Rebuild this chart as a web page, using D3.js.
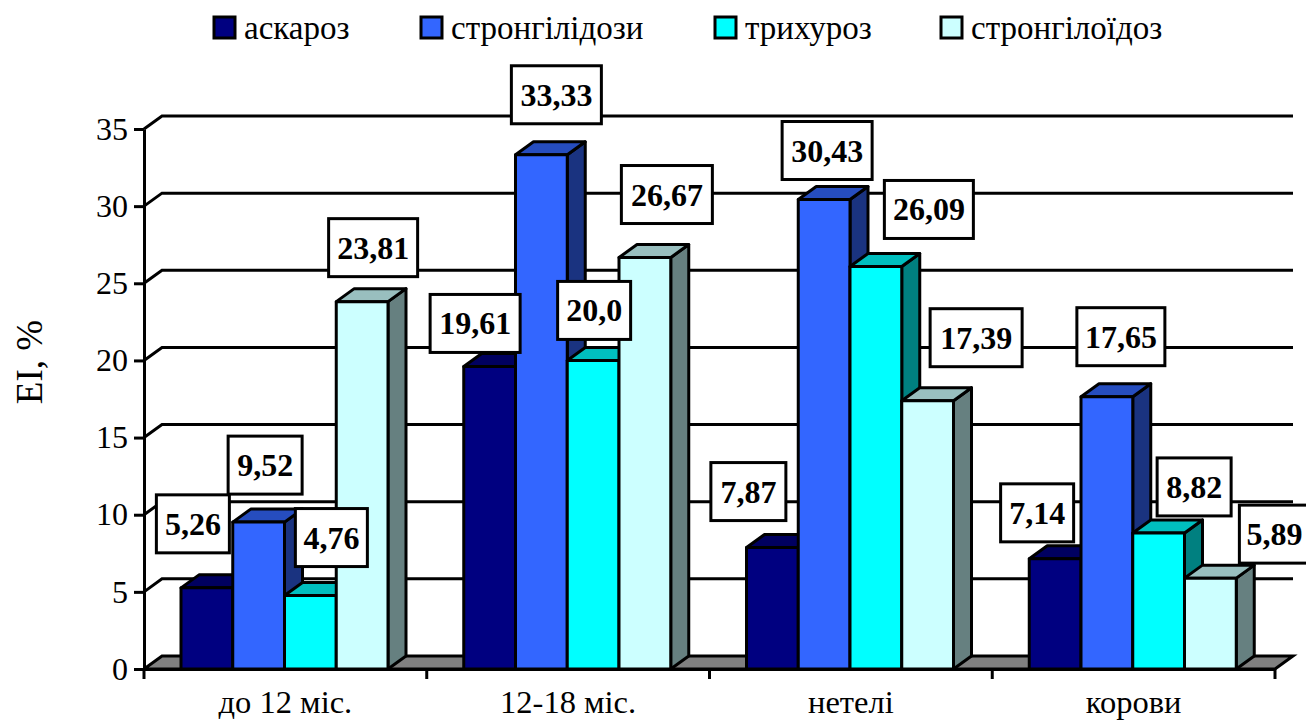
<!DOCTYPE html>
<html>
<head>
<meta charset="utf-8">
<script src="https://cdn.jsdelivr.net/npm/d3@7"></script>
<style>
body { margin: 0; background: #fff; }
svg { display: block; font-family: "Liberation Serif", serif; }
</style>
</head>
<body>
<div id="chart"></div>
<script>
var categories = ["до 12 міс.", "12-18 міс.", "нетелі", "корови"];
var seriesNames = ["аскароз", "стронгілідози", "трихуроз", "стронгілоїдоз"];
var askaroz = [5.26, 19.61, 7.87, 7.14];
var strongilidozy = [9.52, 33.33, 30.43, 17.65];
var trykhuroz = [4.76, 20.0, 26.09, 8.82];
var strongiloidoz = [23.81, 26.67, 17.39, 5.89];
var labelText = [
  ["5,26", "19,61", "7,87", "7,14"],
  ["9,52", "33,33", "30,43", "17,65"],
  ["4,76", "20,0", "26,09", "8,82"],
  ["23,81", "26,67", "17,39", "5,89"]
];
var yTicks = [0, 5, 10, 15, 20, 25, 30, 35];

// look of the chart, not data
var colors = ["#000080", "#3366ff", "#00ffff", "#ccffff"];
var legendX = [214, 421, 715, 941];
// label box centre, relative to top centre of its bar (series, then category)
var labelShift = [
  [[-14, -64], [-14.5, -43], [-24, -56], [-18, -46]],
  [[6.5, -57], [15, -60], [3, -49], [14, -60]],
  [[21, -58], [1, -50], [53, -57], [35.5, -46]],
  [[11, -54], [22, -63], [48.5, -63], [64, -44]]
];
var labelWidth = [
  [73, 90, 75, 73],
  [74, 90, 90, 88],
  [72, 73, 89, 74],
  [89, 91, 92, 70]
];

var width = 1306, height = 720;
var depthX = 18, depthY = 13;
var plotLeft = 144, plotRight = 1275, plotBottom = 669, plotTop = 129;
var axisFont = 33, lineW = 3;

var svg = d3.select("#chart").append("svg")
  .attr("width", width)
  .attr("height", height);

var x = d3.scaleBand().domain(categories).range([plotLeft, plotRight]);
var y = d3.scaleLinear().domain([0, 35]).range([plotBottom, plotTop]);
var xBar = d3.scaleBand().domain(d3.range(4)).range([37, 37 + 207]);

// floor
svg.append("path")
  .attr("d", "M" + plotLeft + "," + plotBottom + "L" + (plotLeft + depthX) + "," + (plotBottom - depthY) +
    "L" + (plotRight + depthX) + "," + (plotBottom - depthY) + "L" + plotRight + "," + plotBottom + "Z")
  .attr("fill", "#808080")
  .attr("stroke", "#000")
  .attr("stroke-width", lineW);

// grid lines on back wall, with the little diagonal to the axis
svg.selectAll(".grid")
  .data(yTicks.slice(1))
  .enter()
  .append("path")
  .attr("class", "grid")
  .attr("fill", "none")
  .attr("stroke", "#000")
  .attr("stroke-width", lineW)
  .attr("d", function(d) {
    return "M" + plotLeft + "," + y(d) + "L" + (plotLeft + depthX) + "," + (y(d) - depthY) +
      "L" + (plotRight + depthX) + "," + (y(d) - depthY);
  });

// y axis
var yAxis = d3.axisLeft(y).tickValues(yTicks).tickSize(10).tickSizeOuter(0).tickPadding(6);
var gy = svg.append("g").attr("transform", "translate(" + plotLeft + ",0)").call(yAxis);
gy.selectAll("path, line").attr("stroke", "#000").attr("stroke-width", lineW);
gy.selectAll("text").attr("font-size", 32).attr("font-family", "Liberation Serif").attr("fill", "#000");

// x axis, band scale gives label centres
var xAxis = d3.axisBottom(x).tickSize(0).tickSizeOuter(0).tickPadding(21);
var gx = svg.append("g").attr("transform", "translate(0," + plotBottom + ")").call(xAxis);
gx.selectAll("path").attr("stroke", "#000").attr("stroke-width", lineW);
gx.selectAll("text").attr("font-size", 32.5).attr("font-family", "Liberation Serif").attr("fill", "#000");

// tick marks sit between the categories
svg.selectAll(".xtick")
  .data(categories.concat("end"))
  .enter()
  .append("line")
  .attr("class", "xtick")
  .attr("x1", function(d, i) { return plotLeft + i * x.step(); })
  .attr("x2", function(d, i) { return plotLeft + i * x.step(); })
  .attr("y1", plotBottom)
  .attr("y2", plotBottom + 10)
  .attr("stroke", "#000")
  .attr("stroke-width", lineW);

// axis title
svg.append("text")
  .text("EI, %")
  .attr("transform", "translate(42,362) rotate(-90)")
  .attr("text-anchor", "middle")
  .attr("font-size", 37);

// 3d bars
var allSeries = [askaroz, strongilidozy, trykhuroz, strongiloidoz];
var bars = [];
categories.forEach(function(c, ci) {
  allSeries.forEach(function(values, si) {
    bars.push({ cat: c, ci: ci, si: si, value: values[ci] });
  });
});

function barLeft(d) { return x(d.cat) + xBar(d.si); }
function barRight(d) { return barLeft(d) + xBar.bandwidth(); }

function shade(col, k) {
  var c = d3.rgb(col);
  return d3.rgb(c.r * k, c.g * k, c.b * k).formatHex();
}

var barG = svg.selectAll(".bar")
  .data(bars)
  .enter()
  .append("g")
  .attr("class", "bar")
  .attr("stroke", "#000")
  .attr("stroke-width", lineW)
  .attr("stroke-linejoin", "round");

barG.append("path")
  .attr("fill", function(d) { return shade(colors[d.si], 0.5); })
  .attr("d", function(d) {
    var r = barRight(d);
    return "M" + r + "," + y(d.value) + "L" + (r + depthX) + "," + (y(d.value) - depthY) +
      "L" + (r + depthX) + "," + (plotBottom - depthY) + "L" + r + "," + plotBottom + "Z";
  });

barG.append("path")
  .attr("fill", function(d) { return shade(colors[d.si], 0.75); })
  .attr("d", function(d) {
    var l = barLeft(d), r = barRight(d), t = y(d.value);
    return "M" + l + "," + t + "L" + (l + depthX) + "," + (t - depthY) +
      "L" + (r + depthX) + "," + (t - depthY) + "L" + r + "," + t + "Z";
  });

barG.append("rect")
  .attr("x", barLeft)
  .attr("y", function(d) { return y(d.value); })
  .attr("width", xBar.bandwidth())
  .attr("height", function(d) { return plotBottom - y(d.value); })
  .attr("fill", function(d) { return colors[d.si]; });

// value labels in boxes
var labelG = svg.selectAll(".label")
  .data(bars)
  .enter()
  .append("g")
  .attr("class", "label")
  .attr("transform", function(d) {
    var s = labelShift[d.si][d.ci];
    return "translate(" + (barLeft(d) + xBar.bandwidth() / 2 + s[0]) + "," + (y(d.value) + s[1]) + ")";
  });

labelG.append("rect")
  .attr("x", function(d) { return -labelWidth[d.si][d.ci] / 2; })
  .attr("y", -29)
  .attr("width", function(d) { return labelWidth[d.si][d.ci]; })
  .attr("height", 58)
  .attr("fill", "#fff")
  .attr("stroke", "#000")
  .attr("stroke-width", lineW);

labelG.append("text")
  .text(function(d) { return labelText[d.si][d.ci]; })
  .attr("text-anchor", "middle")
  .attr("y", 11)
  .attr("font-size", 32)
  .attr("font-weight", "bold");

// legend
var legend = svg.selectAll(".legend")
  .data(seriesNames)
  .enter()
  .append("g")
  .attr("class", "legend")
  .attr("transform", function(d, i) { return "translate(" + legendX[i] + ",17)"; });

legend.append("rect")
  .attr("width", 21)
  .attr("height", 21)
  .attr("fill", function(d, i) { return colors[i]; })
  .attr("stroke", "#000")
  .attr("stroke-width", lineW);

legend.append("text")
  .text(function(d) { return d; })
  .attr("x", 30)
  .attr("y", 22)
  .attr("font-size", axisFont);
</script>
</body>
</html>
